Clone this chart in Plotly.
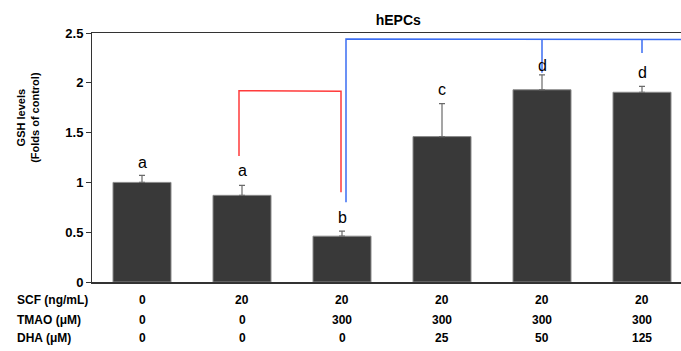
import plotly.graph_objects as go

# ---- data ----
groups = [0, 1, 2, 3, 4, 5]
gsh = [1.00, 0.87, 0.46, 1.46, 1.93, 1.905]
gsh_err = [0.07, 0.10, 0.05, 0.33, 0.15, 0.06]
letters = ["a", "a", "b", "c", "d", "d"]
letter_y = [1.20, 1.12, 0.65, 1.93, 2.17, 2.10]
scf = ["0", "20", "20", "20", "20", "20"]
tmao = ["0", "0", "300", "300", "300", "300"]
dha = ["0", "0", "0", "25", "50", "125"]
row_labels = ["SCF (ng/mL)", "TMAO (μM)", "DHA (μM)"]
y_ticks = [0, 0.5, 1, 1.5, 2, 2.5]
y_ticklabels = ["0", "0.5", "1", "1.5", "2", "2.5"]

FONT = "Arial, Liberation Sans, sans-serif"

fig = go.Figure()
fig.add_trace(go.Bar(
    x=groups, y=gsh, width=0.58,
    marker=dict(color="#393939", line=dict(color="#8a8a8a", width=1)),
    error_y=dict(type="data", array=gsh_err, symmetric=False, arrayminus=[0]*6,
                 color="#6a6a6a", thickness=1.2, width=3),
    showlegend=False, hoverinfo="skip",
))

# significance letters
for gx, gy, t in zip(groups, letter_y, letters):
    fig.add_annotation(x=gx, y=gy, text=t, showarrow=False,
                       font=dict(family=FONT, size=16, color="black"),
                       xref="x", yref="y")

# brackets
red = "#ff3b3b"
blue = "#3b6df2"
# red bracket: group 1 to group 2
fig.add_shape(type="path", xref="x", yref="y",
              path="M %f,%f L %f,%f L %f,%f L %f,%f" % (0.97, 1.265, 0.97, 1.92, 1.99, 1.915, 1.99, 0.90),
              line=dict(color=red, width=1.5))
# blue bracket: group 2 to groups 3,4,5
fig.add_shape(type="path", xref="x", yref="y",
              path="M %f,%f L %f,%f L %f,%f L %f,%f" % (2.04, 0.80, 2.04, 2.44, 5.99, 2.435, 5.99, 2.26),
              line=dict(color=blue, width=1.5))
fig.add_shape(type="line", xref="x", yref="y", x0=4.0, x1=4.0, y0=2.44, y1=2.10,
              line=dict(color=blue, width=1.5))
fig.add_shape(type="line", xref="x", yref="y", x0=5.0, x1=5.0, y0=2.44, y1=2.30,
              line=dict(color=blue, width=1.5))

# treatment table below axis
row_y = [-0.072, -0.152, -0.225]
for rl, ry, vals in zip(row_labels, row_y, [scf, tmao, dha]):
    fig.add_annotation(x=-0.131, y=ry, xref="paper", yref="paper", text=rl,
                       showarrow=False, xanchor="left", yanchor="middle",
                       font=dict(family=FONT, size=12, color="black", weight="bold"))
    for gx, v in zip(groups, vals):
        fig.add_annotation(x=gx, y=ry, xref="x", yref="paper", text=v,
                           showarrow=False, xanchor="center", yanchor="middle",
                           font=dict(family=FONT, size=12, color="black", weight="bold"))

# y-axis title
fig.add_annotation(x=-0.110, y=0.66, xref="paper", yref="paper",
                   text="GSH levels<br>(Folds of control)", textangle=-90,
                   showarrow=False, xanchor="center", yanchor="middle",
                   font=dict(family=FONT, size=11, color="black", weight="bold"))

fig.update_layout(
    width=681, height=351,
    margin=dict(l=92, r=0, t=33, b=69),
    paper_bgcolor="white", plot_bgcolor="white",
    font=dict(family=FONT, color="black"),
    title=dict(text="hEPCs", x=0.52, xref="paper", xanchor="center",
               y=1 - 20 / 351, yanchor="middle",
               font=dict(family=FONT, size=14, color="black", weight="bold")),
    bargap=0.42,
)
fig.update_xaxes(range=[-0.5, 5.39], showticklabels=False, ticks="",
                 showline=True, linecolor="#333333", linewidth=1.5, mirror=True,
                 showgrid=False, zeroline=False)
fig.update_yaxes(range=[0, 2.5], tickvals=y_ticks, ticktext=y_ticklabels,
                 ticks="outside", ticklen=5, tickcolor="#333333",
                 showline=True, linecolor="#333333", linewidth=1,
                 showgrid=False, zeroline=False,
                 tickfont=dict(family=FONT, size=13, color="black", weight="bold"))

fig.write_html("out.html", config={"displayModeBar": False, "staticPlot": True},
               post_script="document.body.style.margin='0px';document.body.style.overflow='hidden';")
